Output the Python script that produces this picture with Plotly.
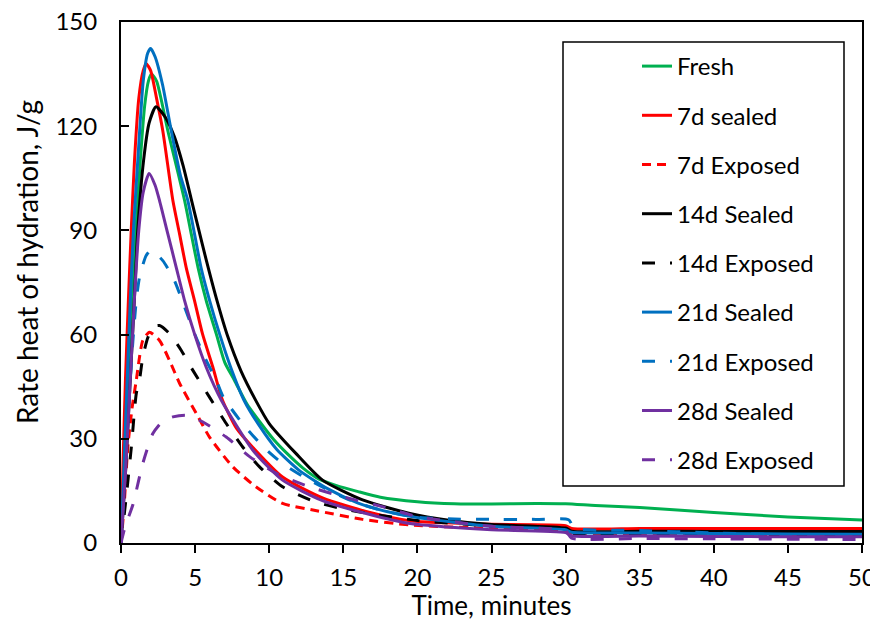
import plotly.graph_objects as go

# ---- data ----
names = ["Fresh", "7d sealed", "7d Exposed", "14d Sealed", "14d Exposed",
         "21d Sealed", "21d Exposed", "28d Sealed", "28d Exposed"]

fresh_t = [0, 0.25, 0.5, 0.75, 1.0, 1.3, 1.6, 1.85, 2.05, 2.4, 3.16, 4.29, 4.74, 5.2, 5.75, 6.43, 7.0, 7.66,
           8.5, 9.45, 10.3, 11.2, 12.3, 13.4, 14.5, 16, 17.5, 20, 22.5, 25, 28, 30, 32, 35, 40, 45, 50]
fresh_v = [0, 22, 45, 70, 90, 110, 126, 133, 135, 133, 118.7, 98.6, 89, 79.3, 69.8, 60.2, 52, 46.8,
           40, 34.4, 29.8, 25.8, 21.5, 18.3, 16.6, 14.8, 13.2, 11.9, 11.3, 11.2, 11.4, 11.3, 10.8, 10.2, 8.8, 7.5, 6.6]

s7_t = [0, 0.15, 0.3, 0.5, 0.69, 0.91, 1.2, 1.5, 1.7, 2.0, 2.4, 2.82, 3.5, 3.95, 4.4, 4.96, 5.5, 6.2, 6.85,
        7.8, 8.9, 10.9, 13.6, 16.8, 19.5, 22, 25, 30, 30.4, 35, 40, 45, 50]
s7_v = [0, 25, 47, 70, 90, 110, 128, 136, 138, 136, 128, 118.7, 98.6, 89, 79.3, 69.8, 60.2, 50.6, 41.1,
        33, 27.5, 19, 13.0, 8.8, 6.4, 5.8, 5.4, 5.0, 4.2, 4.2, 4.2, 4.2, 4.2]

e7_t = [0, 0.2, 0.46, 0.75, 1.03, 1.47, 1.92, 2.6, 3.27, 3.95, 5.08, 5.97, 7.55, 9.1, 10.9, 13.2, 16.3, 19.5,
        25, 30, 30.4, 35, 40, 45, 50]
e7_v = [0, 10, 27.7, 39, 46.8, 58.3, 60.7, 58.3, 52.6, 46, 37.3, 30.5, 21.9, 16.2, 11.4, 9.3, 6.8, 5.2,
        4.2, 3.6, 2.6, 2.4, 2.2, 2.1, 2.0]

s14_t = [0, 0.3, 0.6, 0.9, 1.13, 1.52, 1.9, 2.36, 3.0, 3.6, 4.2, 4.74, 5.2, 5.75, 6.43, 7.2, 8.1, 9.1, 10.0,
         11.8, 13.6, 16.3, 19.5, 22, 25, 30, 30.4, 35, 40, 45, 50]
s14_v = [0, 20, 45, 70, 90, 110, 121, 125.6, 122.5, 117, 108.5, 99, 91, 81.5, 70.5, 59.5, 49.5, 41, 34.4,
         25.8, 18.1, 12.4, 8.5, 6.6, 5.3, 4.3, 3.4, 3.4, 3.3, 3.3, 3.3]

e14_t = [0, 0.37, 0.7, 1.03, 1.25, 1.47, 1.8, 2.15, 2.6, 3.27, 4.06, 4.85, 5.97, 7.1, 8.2, 9.35, 10.9, 13,
         15, 17, 20, 25, 30, 30.4, 35, 40, 45, 50]
e14_v = [0, 14, 27.7, 43, 47, 53.5, 59, 62.2, 62.6, 60.3, 55.5, 49.7, 42, 34.4, 27.7, 21.9, 16.2, 12,
         9.8, 8.3, 6.5, 4.9, 4.0, 2.6, 2.4, 2.3, 2.2, 2.1]

s21_t = [0, 0.2, 0.4, 0.6, 0.84, 1.13, 1.5, 1.8, 2.0, 2.3, 2.8, 3.39, 4.0, 4.51, 4.96, 5.4, 5.98, 6.65, 7.4,
         8.3, 9.3, 10.5, 12, 14, 16, 18, 20, 25, 30, 30.4, 35, 40, 45, 50]
s21_v = [0, 22, 45, 67, 90, 110, 133, 141, 142.4, 140, 132, 118.7, 106, 98.6, 89, 79.3, 69.8, 60.2, 50.6,
         41.1, 34, 27, 21, 15.5, 11.5, 9, 7.3, 4.8, 3.8, 3.1, 2.9, 2.7, 2.6, 2.5]

e21_t = [0, 0.3, 0.6, 0.8, 1.03, 1.25, 1.7, 2.04, 2.82, 3.6, 4.29, 4.96, 5.64, 6.43, 6.9, 8.2, 9.6, 10.9,
         12.7, 15.4, 17.5, 20, 22.5, 25, 28, 30.2, 30.6, 35, 40, 45, 50]
e21_v = [0, 22, 45, 58, 69.8, 76.5, 82.8, 84.2, 81.3, 75.6, 67.9, 60.3, 53.5, 46.8, 42, 34.4, 27.7, 22.9,
         18.1, 12.4, 9.5, 7.4, 6.9, 6.8, 6.8, 6.7, 4.3, 3.6, 2.9, 2.3, 1.8]

s28_t = [0, 0.3, 0.6, 0.9, 1.2, 1.5, 1.9, 2.3, 2.6, 3.16, 3.73, 4.29, 4.96, 5.75, 6.77, 8.9, 10.9, 13.6,
         16.8, 19.5, 22, 25, 30, 30.4, 35, 40, 45, 50]
s28_v = [0, 20, 45, 70, 90, 101, 106.4, 103, 98.6, 89, 79.3, 69.8, 60.2, 50.6, 41.1, 26.7, 18.1, 12.2,
         8.2, 5.6, 4.6, 3.8, 3.0, 2.1, 2.0, 1.9, 1.8, 1.8]

e28_t = [0, 0.3, 0.8, 1.47, 2.15, 2.8, 3.5, 4.4, 5.5, 7.1, 8.7, 10.5, 12.7, 15.0, 17.7, 20, 25, 30, 30.4,
         35, 40, 45, 50]
e28_v = [0, 5, 11, 22.9, 31.5, 35, 36.3, 36.8, 34.9, 30.5, 24.8, 20.0, 16.2, 13.3, 10.4, 7.6, 4.8, 3.5, 1.4,
         1.3, 1.2, 1.1, 1.0]

x_ticks = [0, 5, 10, 15, 20, 25, 30, 35, 40, 45, 50]
y_ticks = [0, 30, 60, 90, 120, 150]

series_t = [fresh_t, s7_t, e7_t, s14_t, e14_t, s21_t, e21_t, s28_t, e28_t]
series_v = [fresh_v, s7_v, e7_v, s14_v, e14_v, s21_v, e21_v, s28_v, e28_v]

# ---- styles ----
colors = ["#00B050", "#FF0000", "#FF0000", "#000000", "#000000",
          "#0070C0", "#0070C0", "#7030A0", "#7030A0"]
LONG = "13px,15px"
SHORT = "9px,6px"
dashes = ["solid", "solid", SHORT, "solid", LONG, "solid", LONG, "solid", LONG]

FONT = "Lato, Carlito, Calibri, sans-serif"

fig = go.Figure()
for i, (n, t, v) in enumerate(zip(names, series_t, series_v)):
    fig.add_trace(go.Scatter(
        x=t, y=v, mode="lines", name=n, legendgroup=f"g{i}",
        line=dict(color=colors[i], width=3, dash=dashes[i], shape="spline", smoothing=0.6),
        hoverinfo="x+y+name"))

# page has an 8px body margin: figure coordinates = screen - 8
OFF = 8
W, H = 878 - OFF, 621 - OFF
L, T = 121 - OFF, 22 - OFF
R = W - (862 - OFF)
B = H - (543 - OFF)
pw, ph = W - L - R, H - T - B


def px_x(p):
    return (p - OFF - L) / pw


def px_y(p):
    return (H - B - (p - OFF)) / ph


fig.update_layout(
    width=W, height=H,
    margin=dict(l=L, r=R, t=T, b=B, autoexpand=False),
    paper_bgcolor="white", plot_bgcolor="white",
    font=dict(family=FONT, size=24, color="black"),
    showlegend=True,
    legend=dict(
        x=px_x(637), y=px_y(44), xanchor="left", yanchor="top",
        bgcolor="rgba(0,0,0,0)", borderwidth=0,
        tracegroupgap=15, traceorder="grouped",
        font=dict(family=FONT, size=24, color="black"),
        itemclick=False, itemdoubleclick=False,
    ),
    xaxis=dict(
        range=[0, 50], tickvals=x_ticks, ticktext=[str(v) for v in x_ticks],
        ticks="outside", ticklen=8, tickwidth=2, tickcolor="black",
        showline=True, linecolor="black", linewidth=2, mirror=True,
        showgrid=False, zeroline=False, ticklabelstandoff=4,
        title=dict(text="Time, minutes", standoff=0, font=dict(size=26)),
    ),
    yaxis=dict(
        range=[0, 150], tickvals=y_ticks, ticktext=[str(v) for v in y_ticks],
        ticks="inside", ticklen=8, tickwidth=2, tickcolor="black",
        showline=True, linecolor="black", linewidth=2, mirror=True,
        showgrid=False, zeroline=False, ticklabelstandoff=17,
        ticklabeloverflow="allow",
    ),
    annotations=[dict(
        text="Rate heat of hydration, J/g", textangle=-90, showarrow=False,
        xref="paper", yref="paper", x=px_x(27), y=px_y(262),
        xanchor="center", yanchor="middle",
        font=dict(family=FONT, size=28, color="black"))],
    shapes=[dict(type="rect", xref="paper", yref="paper",
                 x0=px_x(563), x1=px_x(844), y0=px_y(486), y1=px_y(42),
                 line=dict(color="black", width=1.5), fillcolor="rgba(0,0,0,0)", layer="above")],
)

fig.write_html("out.html")
